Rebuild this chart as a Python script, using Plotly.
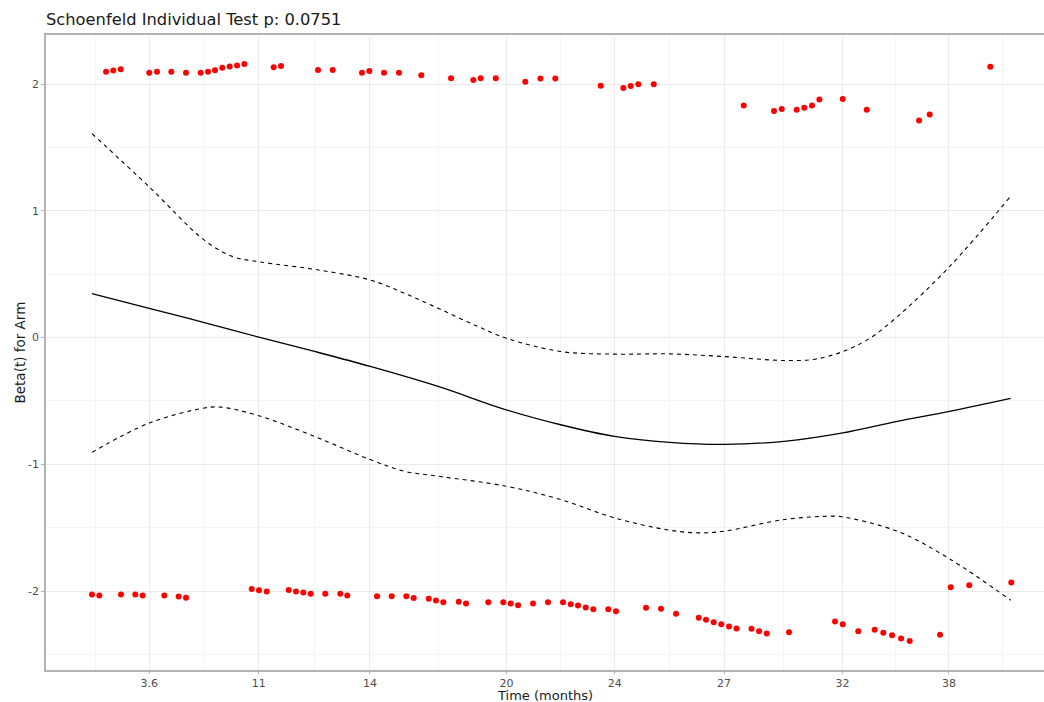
import plotly.graph_objects as go

# transformed time axis (0 = first event, 1 = last event)
tick_pos = [0.0623, 0.1816, 0.3028, 0.4514, 0.5694, 0.6885, 0.8175, 0.9334]
tick_text = ["3.6", "11", "14", "20", "24", "27", "32", "38"]
minor_pos = [0.0033, 0.1220, 0.2422, 0.3772, 0.5106, 0.6289, 0.7531, 0.8747, 0.9920]

# scaled Schoenfeld residuals, arm = 1
top_x = [0.0153, 0.0232, 0.0313, 0.0624, 0.0708, 0.0864, 0.1024, 0.1184, 0.1264, 0.1340,
         0.1419, 0.1500, 0.1580, 0.1659, 0.1979, 0.2059, 0.2462, 0.2622, 0.2941, 0.3021,
         0.3181, 0.3344, 0.3587, 0.3911, 0.4154, 0.4234, 0.4398, 0.4720, 0.4884, 0.5047,
         0.5541, 0.5788, 0.5868, 0.5951, 0.6119, 0.7099, 0.7429, 0.7513, 0.7676, 0.7759,
         0.7843, 0.7923, 0.8178, 0.8439, 0.9009, 0.9125, 0.9785]
top_y = [2.098, 2.106, 2.116, 2.090, 2.098, 2.098, 2.090, 2.090, 2.098, 2.108,
         2.129, 2.139, 2.147, 2.158, 2.132, 2.142, 2.110, 2.110, 2.090, 2.102,
         2.090, 2.090, 2.069, 2.045, 2.032, 2.045, 2.045, 2.019, 2.043, 2.043,
         1.987, 1.968, 1.984, 1.998, 1.998, 1.830, 1.787, 1.803, 1.798, 1.814,
         1.830, 1.879, 1.882, 1.798, 1.712, 1.759, 2.137]

# scaled Schoenfeld residuals, arm = 0
bot_x = [0.0000, 0.0080, 0.0316, 0.0472, 0.0552, 0.0788, 0.0944, 0.1024, 0.1740, 0.1819,
         0.1903, 0.2143, 0.2222, 0.2302, 0.2382, 0.2541, 0.2705, 0.2781, 0.3105, 0.3265,
         0.3424, 0.3504, 0.3668, 0.3747, 0.3827, 0.3995, 0.4074, 0.4317, 0.4480, 0.4561,
         0.4641, 0.4804, 0.4967, 0.5131, 0.5215, 0.5294, 0.5378, 0.5461, 0.5624, 0.5708,
         0.6035, 0.6198, 0.6362, 0.6609, 0.6688, 0.6772, 0.6855, 0.6939, 0.7021, 0.7184,
         0.7266, 0.7350, 0.7593, 0.8094, 0.8178, 0.8347, 0.8526, 0.8620, 0.8715, 0.8813,
         0.8907, 0.9237, 0.9354, 0.9556, 1.0014]
bot_y = [-2.028, -2.035, -2.028, -2.028, -2.035, -2.035, -2.043, -2.053, -1.983, -1.994,
         -2.004, -1.991, -2.004, -2.012, -2.022, -2.022, -2.022, -2.035, -2.041, -2.041,
         -2.041, -2.054, -2.061, -2.075, -2.088, -2.085, -2.098, -2.088, -2.088, -2.098,
         -2.112, -2.098, -2.088, -2.088, -2.104, -2.114, -2.130, -2.143, -2.143, -2.159,
         -2.132, -2.140, -2.180, -2.211, -2.227, -2.246, -2.262, -2.280, -2.295, -2.298,
         -2.317, -2.335, -2.325, -2.240, -2.262, -2.317, -2.306, -2.329, -2.348, -2.374,
         -2.395, -2.345, -1.970, -1.954, -1.933]

# spline fit of beta(t) and +/- 2 se band
fit_x = [0.0, 0.0623, 0.1223, 0.1817, 0.2424, 0.3031, 0.3771, 0.4511, 0.5105, 0.5692,
         0.6292, 0.6886, 0.7539, 0.8180, 0.8773, 0.9340, 1.0007]
fit_y = [0.346, 0.231, 0.118, 0.003, -0.110, -0.228, -0.386, -0.570, -0.688, -0.780,
         -0.827, -0.843, -0.819, -0.753, -0.661, -0.583, -0.480]

up_x = [0.0, 0.0623, 0.1223, 0.1537, 0.1817, 0.2424, 0.3031, 0.3404, 0.3771, 0.4205,
        0.4511, 0.5105, 0.5692, 0.6292, 0.6886, 0.7539, 0.7873, 0.8180, 0.8473, 0.8773,
        0.9340, 1.0007]
up_y = [1.609, 1.189, 0.769, 0.638, 0.598, 0.538, 0.454, 0.349, 0.231, 0.087,
        -0.005, -0.110, -0.131, -0.129, -0.150, -0.181, -0.171, -0.110, -0.005, 0.165,
        0.559, 1.115]

lo_x = [0.0, 0.0623, 0.1223, 0.1403, 0.1817, 0.2424, 0.3031, 0.3404, 0.3771, 0.4511,
        0.5105, 0.5692, 0.6292, 0.6606, 0.6886, 0.7539, 0.8073, 0.8180, 0.8773, 0.9340,
        1.0007]
lo_y = [-0.906, -0.675, -0.556, -0.549, -0.617, -0.780, -0.963, -1.055, -1.094, -1.173,
        -1.278, -1.423, -1.520, -1.541, -1.528, -1.436, -1.409, -1.415, -1.528, -1.745,
        -2.073]

fig = go.Figure()

for xs, ys in [(top_x, top_y), (bot_x, bot_y)]:
    fig.add_trace(go.Scatter(x=xs, y=ys, mode='markers',
                             marker=dict(color='#ff0000', size=6), showlegend=False))

fig.add_trace(go.Scatter(x=fit_x, y=fit_y, mode='lines',
                         line=dict(color='black', width=1.3, shape='spline'), showlegend=False))
for xs, ys in [(up_x, up_y), (lo_x, lo_y)]:
    fig.add_trace(go.Scatter(x=xs, y=ys, mode='lines',
                             line=dict(color='black', width=1.1, dash='4px,4px', shape='spline'),
                             showlegend=False))

fig.update_layout(
    width=1044, height=702,
    margin=dict(l=46, r=0, t=35, b=32),
    paper_bgcolor='white', plot_bgcolor='white',
    font=dict(family='DejaVu Sans', color='#4d4d4d', size=11),
    title=dict(text='Schoenfeld Individual Test p: 0.0751', x=46 / 1044, xanchor='left',
               y=1 - 19 / 702, yanchor='middle', font=dict(size=16.3, color='#1a1a1a')),
    xaxis=dict(
        automargin=False,
        range=[-0.0501, 1.037],
        tickmode='array', tickvals=tick_pos, ticktext=tick_text,
        ticks='outside', ticklen=2, tickcolor='#b3b3b3',
        showgrid=True, gridcolor='#ebebeb', gridwidth=1.2,
        minor=dict(tickmode='array', tickvals=minor_pos, showgrid=True,
                   gridcolor='#f4f4f4', gridwidth=0.8, ticks=''),
        showline=True, linecolor='#b3b3b3', linewidth=1.6, mirror=True,
        zeroline=False,
    ),
    yaxis=dict(
        automargin=False,
        range=[-2.623, 2.387],
        tickmode='array', tickvals=[-2, -1, 0, 1, 2], ticktext=['-2', '-1', '0', '1', '2'],
        ticks='outside', ticklen=3, tickcolor='#b3b3b3',
        showgrid=True, gridcolor='#ebebeb', gridwidth=1.2,
        minor=dict(tickmode='array', tickvals=[-2.5, -1.5, -0.5, 0.5, 1.5], showgrid=True,
                   gridcolor='#f4f4f4', gridwidth=0.8, ticks=''),
        showline=True, linecolor='#b3b3b3', linewidth=1.6,
        zeroline=False,
    ),
    annotations=[
        dict(text='Time (months)', xref='paper', yref='paper', x=0.5, y=-25 / 635,
             xanchor='center', yanchor='middle', showarrow=False, borderpad=0,
             font=dict(size=13, color='#1a1a1a')),
        dict(text='Beta(t) for Arm', xref='paper', yref='paper', x=-27 / 998, y=0.5,
             xanchor='center', yanchor='middle', textangle=-90, showarrow=False,
             font=dict(size=13.5, color='#1a1a1a')),
    ],
)

fig.write_html("out.html", config={'displayModeBar': False},
               post_script="document.body.style.margin='0';document.body.style.overflow='hidden';")
